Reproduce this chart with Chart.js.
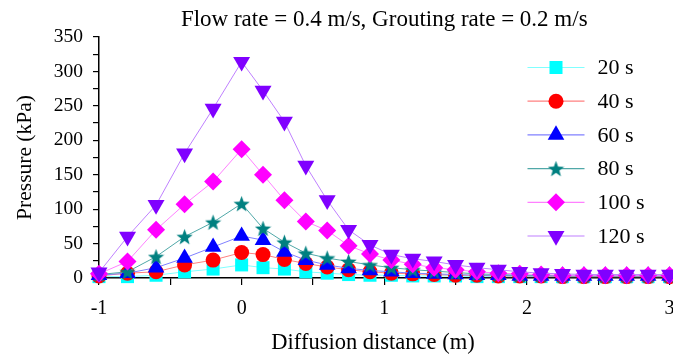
<!DOCTYPE html>
<html>
<head>
<meta charset="utf-8">
<script src="https://cdn.jsdelivr.net/npm/chart.js@4/dist/chart.umd.min.js"></script>
<style>
  html, body { margin: 0; padding: 0; background: #fff; }
  #wrap { width: 673px; height: 357px; }
</style>
</head>
<body>
<div id="wrap"><canvas id="myChart" width="673" height="357"></canvas></div>
<script>
// ── data ──
const distance = [-1, -0.8, -0.6, -0.4, -0.2, 0, 0.15, 0.3, 0.45, 0.6, 0.75, 0.9, 1.05, 1.2, 1.35, 1.5, 1.65, 1.8, 1.95, 2.1, 2.25, 2.4, 2.55, 2.7, 2.85, 3.0];
const labels = ['20 s', '40 s', '60 s', '80 s', '100 s', '120 s'];
const p20  = [2, 2, 4, 9, 13, 19, 15, 13, 9, 7, 5, 4, 4, 3, 3, 3, 2, 2, 2, 2, 2, 2, 2, 2, 2, 2];
const p40  = [3, 7, 9, 19, 26, 37, 34, 27, 21, 16, 12, 9, 7, 6, 5, 4, 4, 3, 3, 3, 2, 2, 2, 2, 2, 2];
const p60  = [4, 7, 15, 29, 45, 61, 55, 38, 26, 19, 14, 11, 9, 7, 6, 5, 4, 4, 3, 3, 3, 3, 3, 3, 3, 3];
const p80  = [5, 9, 31, 60, 81, 108, 72, 52, 36, 29, 24, 19, 15, 12, 10, 8, 6, 5, 4, 4, 3, 3, 3, 3, 3, 3];
const p100 = [6, 24, 70, 107, 140, 187, 150, 113, 82, 69, 47, 35, 26, 20, 15, 12, 9, 7, 6, 5, 4, 4, 4, 4, 4, 4];
const p120 = [8, 60, 106, 181, 246, 314, 272, 227, 163, 113, 70, 48, 34, 28, 24, 19, 15, 12, 9, 7, 6, 5, 5, 5, 5, 5];
const yTicks = [0, 50, 100, 150, 200, 250, 300, 350];
const xTicks = [-1, 0, 1, 2, 3];

const FONT = "'Liberation Serif', 'Times New Roman', serif";

// filled five-point star for the 80 s series
function makeStar(color, size) {
    const c = document.createElement('canvas');
    c.width = size; c.height = size;
    const g = c.getContext('2d');
    const cx = size / 2, cy = size / 2 + 0.8, R = size / 2, r = R * 0.42;
    g.beginPath();
    for (let i = 0; i < 10; i++) {
        const a = -Math.PI / 2 + i * Math.PI / 5;
        const rr = i % 2 ? r : R;
        g.lineTo(cx + rr * Math.cos(a), cy + rr * Math.sin(a));
    }
    g.closePath();
    g.fillStyle = color;
    g.fill();
    return c;
}

const series = [
    { data: p20,  fill: '#00FFFF', line: '#80FFFF', style: 'rect',     radius: 9.2, rot: 0 },
    { data: p40,  fill: '#FF0000', line: '#FF8080', style: 'circle',   radius: 7.5, rot: 0 },
    { data: p60,  fill: '#0000FF', line: '#8080FF', style: 'triangle', radius: 9.6, rot: 0 },
    { data: p80,  fill: '#008080', line: '#50A8A8', style: makeStar('#008080', 17), radius: 8, rot: 0 },
    { data: p100, fill: '#FF00FF', line: '#FF80FF', style: 'rectRot',  radius: 9,   rot: 0 },
    { data: p120, fill: '#8000FF', line: '#BF80FF', style: 'triangle', radius: 9.8, rot: 180 }
];

const datasets = series.map((s, i) => ({
    label: labels[i],
    data: s.data.map((v, k) => ({ x: distance[k], y: v })),
    borderColor: s.line,
    borderWidth: 1,
    backgroundColor: s.fill,
    pointBackgroundColor: s.fill,
    pointBorderWidth: 0,
    pointStyle: s.style,
    pointRadius: s.radius,
    pointRotation: s.rot,
    order: series.length - i,
    clip: false,
    tension: 0
}));

// legend: line with marker in the middle, inside the plot area on the right
const legendPlugin = {
    id: 'lineLegend',
    afterDraw(chart) {
        const { ctx, chartArea } = chart;
        const x0 = chartArea.right - 142, x1 = chartArea.right - 85, xm = (x0 + x1) / 2;
        ctx.save();
        series.forEach((s, i) => {
            const y = chartArea.top + 30.5 + i * 33.7;
            ctx.strokeStyle = s.line;
            ctx.lineWidth = 1.2;
            ctx.beginPath(); ctx.moveTo(x0, y); ctx.lineTo(x1, y); ctx.stroke();
            ctx.fillStyle = s.fill;
            Chart.helpers.drawPoint(ctx, { pointStyle: s.style, radius: s.radius, rotation: s.rot, borderWidth: 0 }, xm, y);
            ctx.fillStyle = '#000';
            ctx.font = '22px ' + FONT;
            ctx.textBaseline = 'middle';
            ctx.textAlign = 'left';
            ctx.fillText(labels[i], x1 + 13, y + 1);
        });
        ctx.restore();
    }
};

const ctx = document.getElementById('myChart').getContext('2d');
const chart = new Chart(ctx, {
    type: 'line',
    data: { datasets },
    plugins: [legendPlugin],
    options: {
        responsive: false,
        animation: false,
        devicePixelRatio: 1,
        layout: { autoPadding: false, padding: { top: 1.4, right: 3.5, left: 0, bottom: 0 } },
        plugins: {
            legend: { display: false },
            tooltip: { enabled: false },
            title: {
                display: true,
                text: 'Flow rate = 0.4 m/s, Grouting rate = 0.2 m/s',
                color: '#000',
                fullSize: false,
                font: { family: FONT, size: 23, weight: 'normal' },
                padding: { top: 4.5, bottom: 3.5 }
            }
        },
        scales: {
            x: {
                type: 'linear',
                min: xTicks[0], max: xTicks[xTicks.length - 1],
                afterFit(s) { s.paddingLeft = 0; s.paddingRight = 0; s.height = 79; },
                ticks: {
                    stepSize: 0.5, autoSkip: false, maxRotation: 0,
                    color: '#000', padding: 12,
                    font: { family: FONT, size: 20 },
                    callback: v => xTicks.includes(v) ? String(v) : ''
                },
                grid: { display: true, drawOnChartArea: false, drawTicks: true, tickLength: 7, color: '#000', lineWidth: 1.2 },
                border: { display: true, color: '#000', width: 1.5 },
                title: { display: true, text: 'Diffusion distance (m)    ', color: '#000', font: { family: FONT, size: 22.5 }, padding: { top: 0, bottom: 0 } }
            },
            y: {
                type: 'linear',
                min: yTicks[0], max: yTicks[yTicks.length - 1],
                afterFit(s) { s.width = 99; },
                ticks: {
                    stepSize: 25, autoSkip: false,
                    color: '#000', padding: 10,
                    font: { family: FONT, size: 19.5 },
                    callback: v => yTicks.includes(v) ? String(v) : ''
                },
                grid: { display: true, drawOnChartArea: false, drawTicks: true, tickLength: 6, color: '#000', lineWidth: 1.2 },
                border: { display: true, color: '#000', width: 1.5 },
                title: { display: true, text: 'Pressure (kPa)', color: '#000', font: { family: FONT, size: 21.5 }, padding: { top: 12, bottom: 3 } }
            }
        }
    }
});
</script>
</body>
</html>
